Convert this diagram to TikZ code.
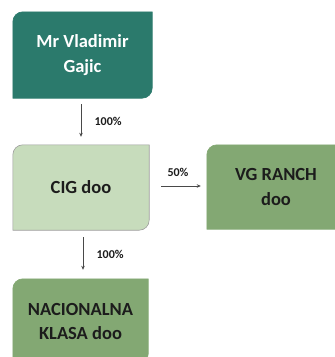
\documentclass[tikz,border=0pt]{standalone}
\usepackage{fontspec}
\setmainfont{Carlito}
\usetikzlibrary{arrows.meta,backgrounds}
\definecolor{ownerteal}{HTML}{2B7A6C}
\definecolor{cigfill}{HTML}{C7DCBC}
\definecolor{firmfill}{HTML}{83A873}
\definecolor{cigline}{HTML}{9C9C9C}
\definecolor{darktext}{HTML}{1C1C1C}
\newcommand{\rc}{10pt}

\begin{document}
\begin{tikzpicture}[x=1pt, y=-1pt,
    card/.style={align=center, inner sep=0pt, font=\fontsize{18.5}{24.5}\selectfont\bfseries, text=darktext},
    share/.style={draw=darktext!80, line width=0.6pt, -{Stealth[length=4pt, width=3.5pt]}},
    pct/.style={font=\fontsize{12}{14}\selectfont\bfseries, text=darktext}]
    \clip (0,0) rectangle (335,357);

    % Companies
    \node[card, text=white, minimum width=139pt, minimum height=86pt] (mr) at (82.5,55) {Mr Vladimir\\Gajic};
    \node[card, minimum width=136pt, minimum height=85pt] (cig) at (81,187.5) {CIG doo};
    \node[card, minimum width=138pt, minimum height=84pt] (vg) at (276,187) {VG RANCH\\doo};
    \node[card, minimum width=135pt, minimum height=85pt] (nk) at (80.5,321.5) {NACIONALNA\\KLASA doo};

    \begin{scope}[on background layer]
        \foreach \n/\c/\d in {mr/ownerteal/ownerteal, cig/cigfill/cigline, vg/firmfill/firmfill, nk/firmfill/firmfill}
            \filldraw[fill=\c, draw=\d, line width=0.6pt] (\n.south west) -- ([yshift=-\rc]\n.north west)
                arc[start angle=180, end angle=90, radius=\rc] -- (\n.north east)
                -- ([yshift=\rc]\n.south east) arc[start angle=0, end angle=-90, radius=\rc] -- cycle;
    \end{scope}

    % Shares
    \draw[share, shorten <=6pt, shorten >=8pt] (mr.south -| cig.north) -- (cig.north) node[midway, right=10pt, pct] {100\%};
    \draw[share, shorten <=12pt, shorten >=6pt] ([yshift=1.5pt]cig.east) -- ([yshift=1.5pt]cig.east -| vg.west) node[midway, above=6pt, pct] {50\%};
    \draw[share, shorten <=7pt, shorten >=9pt] ([xshift=2pt]cig.south) -- ([xshift=2pt]cig.south |- nk.north) node[midway, right=10pt, pct] {100\%};
\end{tikzpicture}
\end{document}
